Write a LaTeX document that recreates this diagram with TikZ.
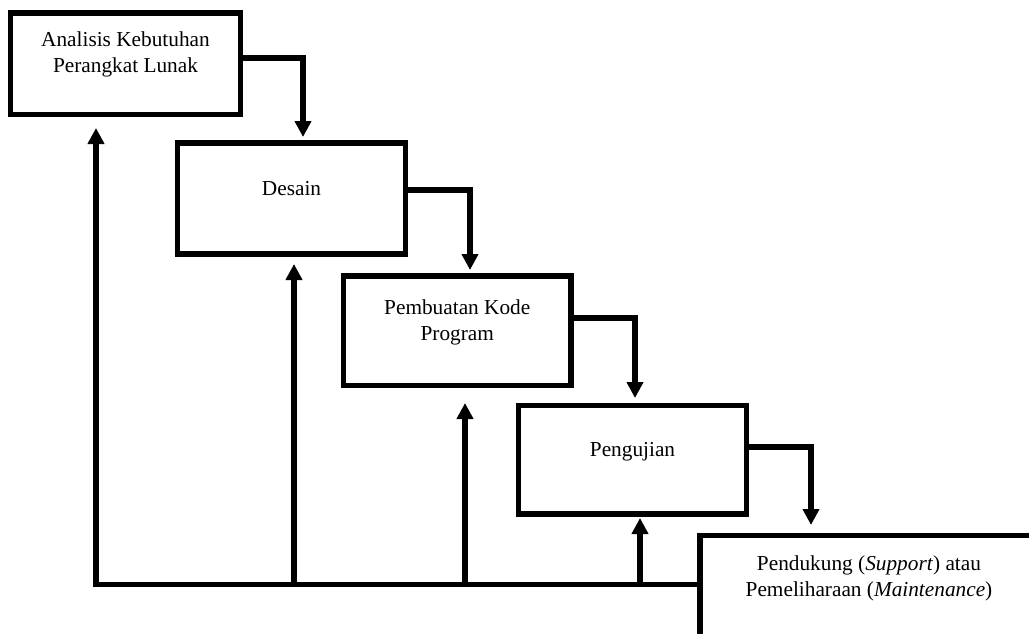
\documentclass[tikz,border=0pt]{standalone}
\usepackage{fontspec}
\setmainfont{Liberation Serif}
\usetikzlibrary{arrows.meta,calc}
\begin{document}
\begin{tikzpicture}[x=1pt,y=-1pt,
  box/.style 2 args={draw, line width=5.5pt, inner sep=0pt, outer sep=0pt,
    minimum width=#1, minimum height=#2},
  flow/.style={line width=5.5pt, line join=miter, -{Triangle[width=16pt,length=16pt]}},
  txt/.style={align=center, inner sep=0pt, font=\fontsize{21.3}{26}\selectfont}]
\useasboundingbox (0,0) rectangle (1029,634);
\clip (0,0) rectangle (1029,634);
% boxes
\node[box={230pt}{101.5pt}] (b1) at (125.5,63.75) {};
\node[box={228pt}{111pt}] (b2) at (291.5,198.5) {};
\node[box={227.5pt}{109.5pt}] (b3) at (457.25,330.75) {};
\node[box={228pt}{108.5pt}] (b4) at (632.5,459.75) {};
\node[box={338pt}{170pt}] (b5) at (869,620.5) {};
% texts (base anchor = baseline of the last line)
\node[txt, anchor=base] (t1) at (125.5,73) {Analisis Kebutuhan\\Perangkat Lunak};
\node[txt, anchor=base] (t2) at (291.5,195) {Desain};
\node[txt, anchor=base] (t3) at (457.25,340) {Pembuatan Kode\\Program};
\node[txt, anchor=base] (t4) at (632.5,456) {Pengujian};
\node[txt, anchor=base] (t5) at (869,596) {Pendukung (\textit{Support}) atau\\Pemeliharaan (\textit{Maintenance})};
% forward arrows
\coordinate (c1) at (303,58);   \coordinate (e1) at (303,137);
\coordinate (c2) at (470,190);  \coordinate (e2) at (470,270);
\coordinate (c3) at (635,318);  \coordinate (e3) at (635,398);
\coordinate (c4) at (811,447);  \coordinate (e4) at (811,525);
\draw[flow] (b1.east |- c1) -| (e1);
\draw[flow] (b2.east |- c2) -| (e2);
\draw[flow] (b3.east |- c3) -| (e3);
\draw[flow] (b4.east |- c4) -| (e4);
% feedback
\coordinate (L) at (96,584.5);
\coordinate (u1) at (96,128);
\coordinate (u2) at (294,264);
\coordinate (u3) at (465,403);
\coordinate (u4) at (640,518);
\draw[flow] (b5.west |- L) -- (L) -- (u1);
\draw[flow] (u2 |- L) -- (u2);
\draw[flow] (u3 |- L) -- (u3);
\draw[flow] (u4 |- L) -- (u4);
\end{tikzpicture}
\end{document}
